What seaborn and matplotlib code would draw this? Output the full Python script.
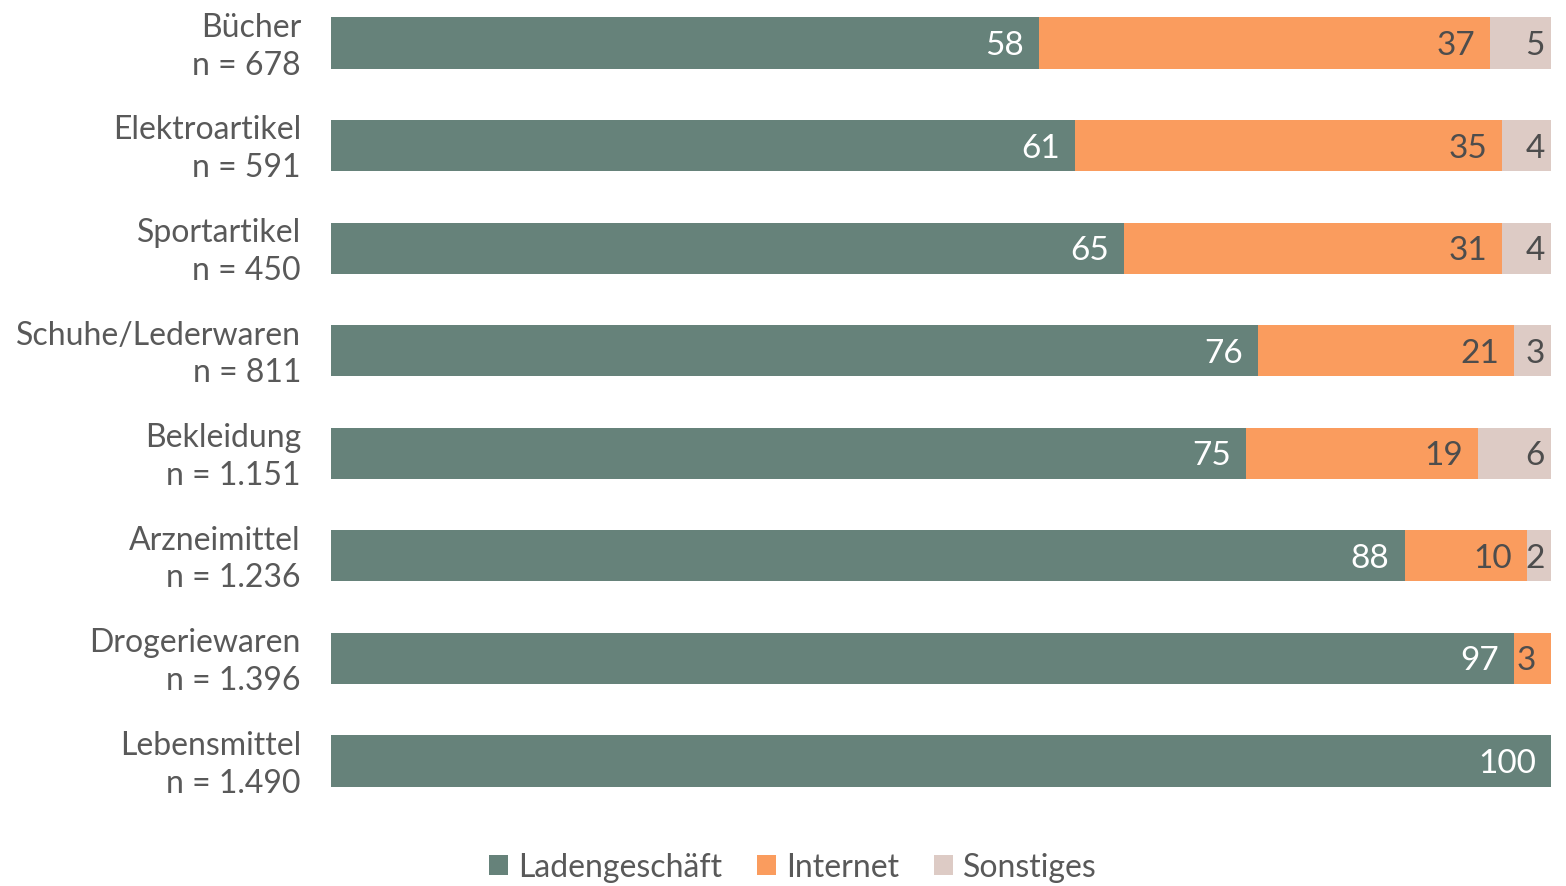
import matplotlib
matplotlib.use("Agg")
import matplotlib.pyplot as plt
import matplotlib.transforms as mtransforms
import seaborn as sns
import pandas as pd
from matplotlib.patches import Patch

categories = ["Bücher", "Elektroartikel", "Sportartikel", "Schuhe/Lederwaren",
              "Bekleidung", "Arzneimittel", "Drogeriewaren", "Lebensmittel"]
sample_sizes = ["678", "591", "450", "811", "1.151", "1.236", "1.396", "1.490"]
laden = [58, 61, 65, 76, 75, 88, 97, 100]
internet = [37, 35, 31, 21, 19, 10, 3, 0]
sonstiges = [5, 4, 4, 3, 6, 2, 0, 0]
series_names = ["Ladengeschäft", "Internet", "Sonstiges"]

colors = ["#66827A", "#FA9C5E", "#DDCBC5"]
text_gray = "#595959"
label_dark = "#4D4D4D"

sns.set_theme(style="white")
plt.rcParams["font.family"] = ["Lato", "DejaVu Sans"]

ylabels = [f"{c}\nn = {n}" for c, n in zip(categories, sample_sizes)]
df = pd.DataFrame({"label": ylabels, "laden": laden,
                   "internet": internet, "sonstiges": sonstiges})
df["cum2"] = df["laden"] + df["internet"]
df["cum3"] = df["cum2"] + df["sonstiges"]

fig = plt.figure(figsize=(15.66, 8.87), dpi=100)
W, H = 1566, 887
ax = fig.add_axes([331 / W, (H - 810) / H, (1551 - 331) / W, 810 / H])

# stacked bars: draw cumulative layers back to front
for col, c in [("cum3", colors[2]), ("cum2", colors[1]), ("laden", colors[0])]:
    sns.barplot(data=df, x=col, y="label", orient="h", color=c,
                width=0.5, saturation=1, ax=ax, linewidth=0)

ax.set_xlim(0, 100)
ax.set_ylim(7.468, -0.429)
ax.set_xlabel("")
ax.set_ylabel("")
ax.set_xticks([])
for s in ax.spines.values():
    s.set_visible(False)
ax.tick_params(axis="y", length=0, pad=21.6)
shift_up = mtransforms.ScaledTranslation(0, 3 / 72, fig.dpi_scale_trans)
for t in ax.get_yticklabels():
    t.set_fontsize(23)
    t.set_color(text_gray)
    t.set_linespacing(1.32)
    t.set_transform(t.get_transform() + shift_up)

px = 100 / 1220.0  # data units per pixel
for i in range(len(categories)):
    segs = [(0, laden[i], laden[i], "white", 15),
            (laden[i], laden[i] + internet[i], internet[i], label_dark, 15),
            (laden[i] + internet[i], laden[i] + internet[i] + sonstiges[i], sonstiges[i], label_dark, 6)]
    for start, end, val, col, pad in segs:
        if val <= 0:
            continue
        width_px = (end - start) / px
        text_w = 16 * len(str(val))
        if width_px - text_w - pad < 2:
            x, ha = (start + end) / 2, "center"
        else:
            x, ha = end - pad * px, "right"
        ax.text(x, i + 0.02, str(val), ha=ha, va="center", color=col,
                fontsize=24)

handles = [Patch(facecolor=c, edgecolor="none") for c in colors]
leg = fig.legend(handles, series_names, loc="center",
                 bbox_to_anchor=(793 / W, 1 - 868 / H), ncol=3, frameon=False,
                 fontsize=23, handlelength=0.6, handleheight=0.6,
                 handletextpad=0.3, columnspacing=1.1)
for t in leg.get_texts():
    t.set_color(text_gray)

fig.savefig("out.png", dpi=100)
